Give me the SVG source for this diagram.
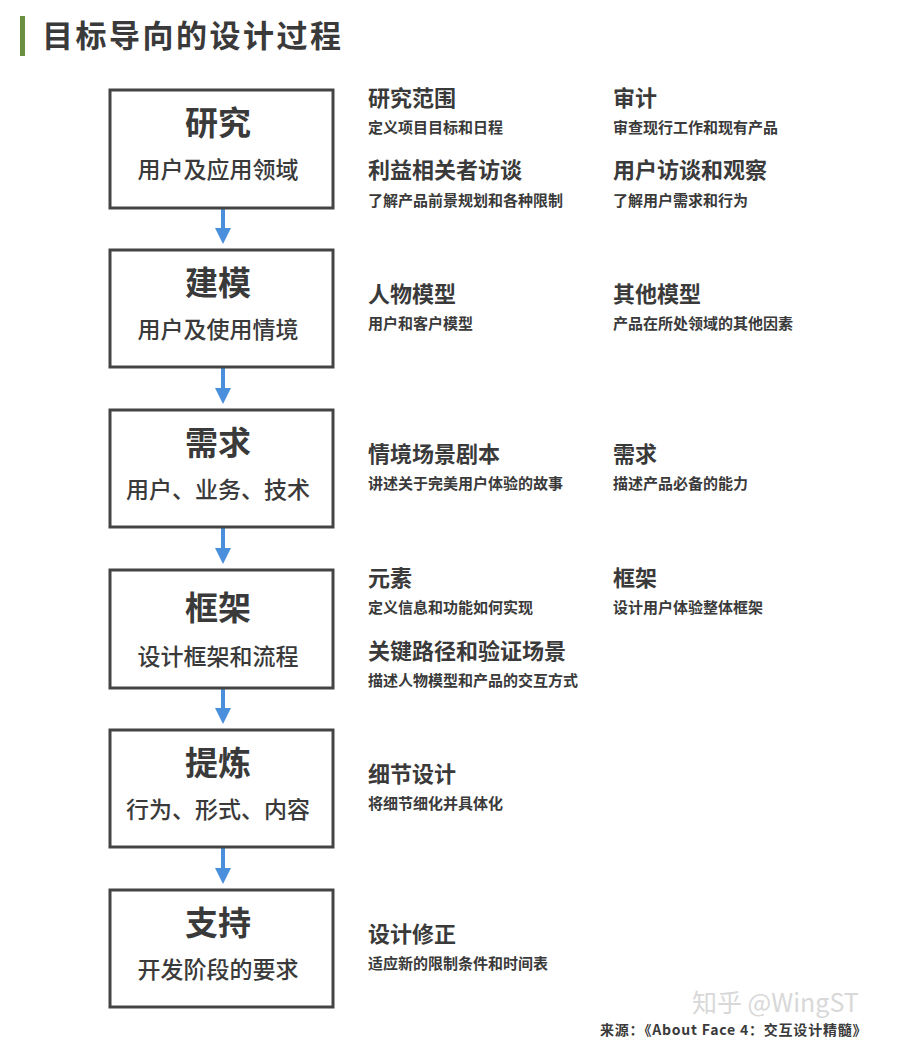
<svg xmlns="http://www.w3.org/2000/svg" width="900" height="1054" viewBox="0 0 900 1054">
<style>
text{font-family:"Noto Sans CJK SC","Noto Sans",sans-serif;fill:#3a3a3a;font-weight:bold}
.box{fill:#fff;stroke:#444;stroke-width:3}
.t{font-size:33px;text-anchor:middle}
.s{font-size:23px;text-anchor:middle;font-weight:500}
.h{font-size:22px}
.d{font-size:15px}
.arr{stroke:#4a8fdb;stroke-width:4;fill:none;marker-end:url(#ah)}
</style>
<defs><marker id="ah" markerWidth="4" markerHeight="4" refX="2.5" refY="2" orient="auto" markerUnits="strokeWidth"><path d="M0,0 L4,2 L0,4 Z" fill="#4a8fdb"/></marker></defs>
<rect width="900" height="1054" fill="#fff"/>
<g id="title"><rect x="20" y="16" width="5" height="40" fill="#6a8f3f"/><text x="42" y="47" style="font-size:31px;letter-spacing:2.5px">目标导向的设计过程</text></g>
<g id="connectors">
<line class="arr" x1="223" y1="209" x2="223" y2="238"/>
<line class="arr" x1="223" y1="368" x2="223" y2="398"/>
<line class="arr" x1="223" y1="528" x2="223" y2="558"/>
<line class="arr" x1="223" y1="689" x2="223" y2="718"/>
<line class="arr" x1="223" y1="848" x2="223" y2="878"/>
</g>
<g id="n1"><rect class="box" x="110" y="90" width="223" height="118"/><text class="t" x="218" y="135">研究</text><text class="s" x="218" y="178">用户及应用领域</text></g>
<g id="n2"><rect class="box" x="110" y="250" width="223" height="117"/><text class="t" x="218" y="295">建模</text><text class="s" x="218" y="338">用户及使用情境</text></g>
<g id="n3"><rect class="box" x="110" y="410" width="223" height="117"/><text class="t" x="218" y="455">需求</text><text class="s" x="218" y="498">用户、业务、技术</text></g>
<g id="n4"><rect class="box" x="110" y="570" width="223" height="118"/><text class="t" x="218" y="620">框架</text><text class="s" x="218" y="665">设计框架和流程</text></g>
<g id="n5"><rect class="box" x="110" y="730" width="223" height="117"/><text class="t" x="218" y="775">提炼</text><text class="s" x="218" y="818">行为、形式、内容</text></g>
<g id="n6"><rect class="box" x="110" y="890" width="223" height="117"/><text class="t" x="218" y="935">支持</text><text class="s" x="218" y="978">开发阶段的要求</text></g>
<g id="notes">
<text class="h" x="368" y="106">研究范围</text><text class="d" x="368" y="133">定义项目目标和日程</text>
<text class="h" x="613" y="106">审计</text><text class="d" x="613" y="133">审查现行工作和现有产品</text>
<text class="h" x="368" y="178">利益相关者访谈</text><text class="d" x="368" y="206">了解产品前景规划和各种限制</text>
<text class="h" x="613" y="178">用户访谈和观察</text><text class="d" x="613" y="206">了解用户需求和行为</text>
<text class="h" x="368" y="302">人物模型</text><text class="d" x="368" y="329">用户和客户模型</text>
<text class="h" x="613" y="302">其他模型</text><text class="d" x="613" y="329">产品在所处领域的其他因素</text>
<text class="h" x="368" y="462">情境场景剧本</text><text class="d" x="368" y="489">讲述关于完美用户体验的故事</text>
<text class="h" x="613" y="462">需求</text><text class="d" x="613" y="489">描述产品必备的能力</text>
<text class="h" x="368" y="586">元素</text><text class="d" x="368" y="613">定义信息和功能如何实现</text>
<text class="h" x="613" y="586">框架</text><text class="d" x="613" y="613">设计用户体验整体框架</text>
<text class="h" x="368" y="659">关键路径和验证场景</text><text class="d" x="368" y="686">描述人物模型和产品的交互方式</text>
<text class="h" x="368" y="782">细节设计</text><text class="d" x="368" y="809">将细节细化并具体化</text>
<text class="h" x="368" y="942">设计修正</text><text class="d" x="368" y="969">适应新的限制条件和时间表</text>
</g>
<text x="692" y="1012" style="font-size:25px;font-weight:normal;fill:#d8d8d8">知乎 @WingST</text>
<text x="600" y="1035" style="font-size:14px;letter-spacing:0.8px">来源：《About Face 4：交互设计精髓》</text>
</svg>
